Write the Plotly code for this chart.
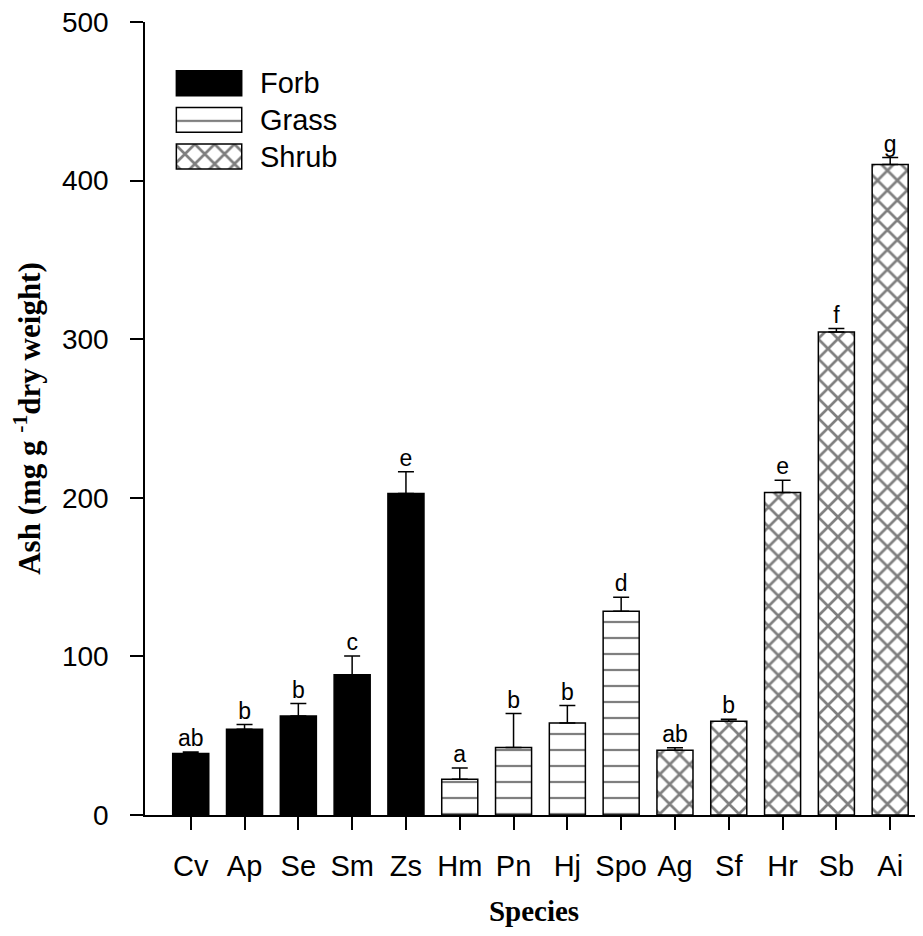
import plotly.graph_objects as go

# ---- data ----
categories = ["Cv", "Ap", "Se", "Sm", "Zs", "Hm", "Pn", "Hj", "Spo", "Ag", "Sf", "Hr", "Sb", "Ai"]

forb_species = ["Cv", "Ap", "Se", "Sm", "Zs"]
forb_values = [38.8, 54.0, 62.5, 88.5, 202.7]
forb_errors = [1.0, 3.0, 7.8, 11.7, 13.8]

grass_species = ["Hm", "Pn", "Hj", "Spo"]
grass_values = [22.6, 42.6, 58.0, 128.5]
grass_errors = [7.0, 21.4, 11.0, 8.8]

shrub_species = ["Ag", "Sf", "Hr", "Sb", "Ai"]
shrub_values = [40.9, 59.1, 203.3, 304.6, 410.2]
shrub_errors = [1.5, 1.3, 7.8, 2.1, 4.3]

letters = ["ab", "b", "b", "c", "e", "a", "b", "b", "d", "ab", "b", "e", "f", "g"]

legend_names = ["Forb", "Grass", "Shrub"]
y_ticks = [0, 100, 200, 300, 400, 500]

# ---- styles ----
SANS = "Liberation Sans, Arial, sans-serif"
SERIF = "Liberation Serif, Times New Roman, serif"
BAR_W = 0.67

styles = {
    "Forb": dict(color="black", pattern=None),
    "Grass": dict(color="white", pattern=dict(shape="-", size=16, solidity=0.14, fgcolor="black", bgcolor="white")),
    "Shrub": dict(color="white", pattern=dict(shape="x", size=14, solidity=0.35, fgcolor="black", bgcolor="white")),
}

fig = go.Figure()

groups = [
    ("Forb", forb_species, forb_values, forb_errors),
    ("Grass", grass_species, grass_values, grass_errors),
    ("Shrub", shrub_species, shrub_values, shrub_errors),
]

for name, xs, ys, es in groups:
    st = styles[name]
    marker = dict(color=st["color"], line=dict(color="black", width=1.5))
    if st["pattern"]:
        marker["pattern"] = st["pattern"]
    fig.add_trace(go.Bar(
        x=xs, y=ys, name=name, width=BAR_W, marker=marker, showlegend=False,
        error_y=dict(type="data", array=es, arrayminus=[0] * len(es), symmetric=False,
                     color="black", thickness=1.5, width=8),
    ))

# significance letters above error bars
all_vals = forb_values + grass_values + shrub_values
all_errs = forb_errors + grass_errors + shrub_errors
fig.add_trace(go.Scatter(
    x=categories, y=[v + e for v, e in zip(all_vals, all_errs)], mode="text",
    text=letters, textposition="top center", textfont=dict(family=SANS, size=23, color="black"),
    showlegend=False, hoverinfo="skip",
))

# custom legend as an inset of horizontal bars (wide swatches)
for name in legend_names:
    st = styles[name]
    marker = dict(color=st["color"], line=dict(color="black", width=1.5))
    if st["pattern"]:
        marker["pattern"] = st["pattern"]
    fig.add_trace(go.Bar(
        x=[1], y=[name], orientation="h", width=0.68, marker=marker,
        xaxis="x2", yaxis="y2", showlegend=False, hoverinfo="skip",
    ))

fig.update_layout(
    width=923, height=936,
    margin=dict(l=137, r=8, t=14, b=129),
    paper_bgcolor="white", plot_bgcolor="white",
    barmode="overlay",
    showlegend=False,
    font=dict(family=SANS, color="black"),
    xaxis=dict(
        type="category", categoryorder="array", categoryarray=categories,
        range=[-0.85, 13.61], automargin=False,
        showline=True, linecolor="black", linewidth=1.5,
        ticks="outside", ticklen=13, tickwidth=1.5, tickcolor="black",
        tickfont=dict(family=SANS, size=29, color="black"),
        ticklabelstandoff=11,
        showgrid=False, zeroline=False,
        title=dict(text="<b>Species</b>", font=dict(family=SERIF, size=29, color="black"), standoff=20),
    ),
    yaxis=dict(
        range=[0, 500], tickvals=y_ticks, automargin=False,
        showline=True, linecolor="black", linewidth=1.5,
        ticks="outside", ticklen=13, tickwidth=1.5, tickcolor="black",
        tickfont=dict(family=SANS, size=28, color="black"),
        ticklabelstandoff=16, ticklabeloverflow="allow",
        showgrid=False, zeroline=False,
        title=dict(text="<b>Ash (mg g <sup>-1</sup>dry weight)</b>",
                   font=dict(family=SERIF, size=31, color="black"), standoff=14),
    ),
    xaxis2=dict(domain=[0.0386, 0.126], range=[-0.02, 1.02], anchor="y2", automargin=False,
                showline=False, showticklabels=False, ticks="", showgrid=False, zeroline=False),
    yaxis2=dict(domain=[0.8073, 0.9459], anchor="x2", side="right", automargin=False,
                type="category", categoryorder="array", categoryarray=legend_names[::-1],
                range=[-0.5, 2.5],
                showline=False, ticks="", showgrid=False, zeroline=False,
                tickfont=dict(family=SANS, size=29, color="black"), ticklabelstandoff=16),
)

fig.write_html("out.html")
